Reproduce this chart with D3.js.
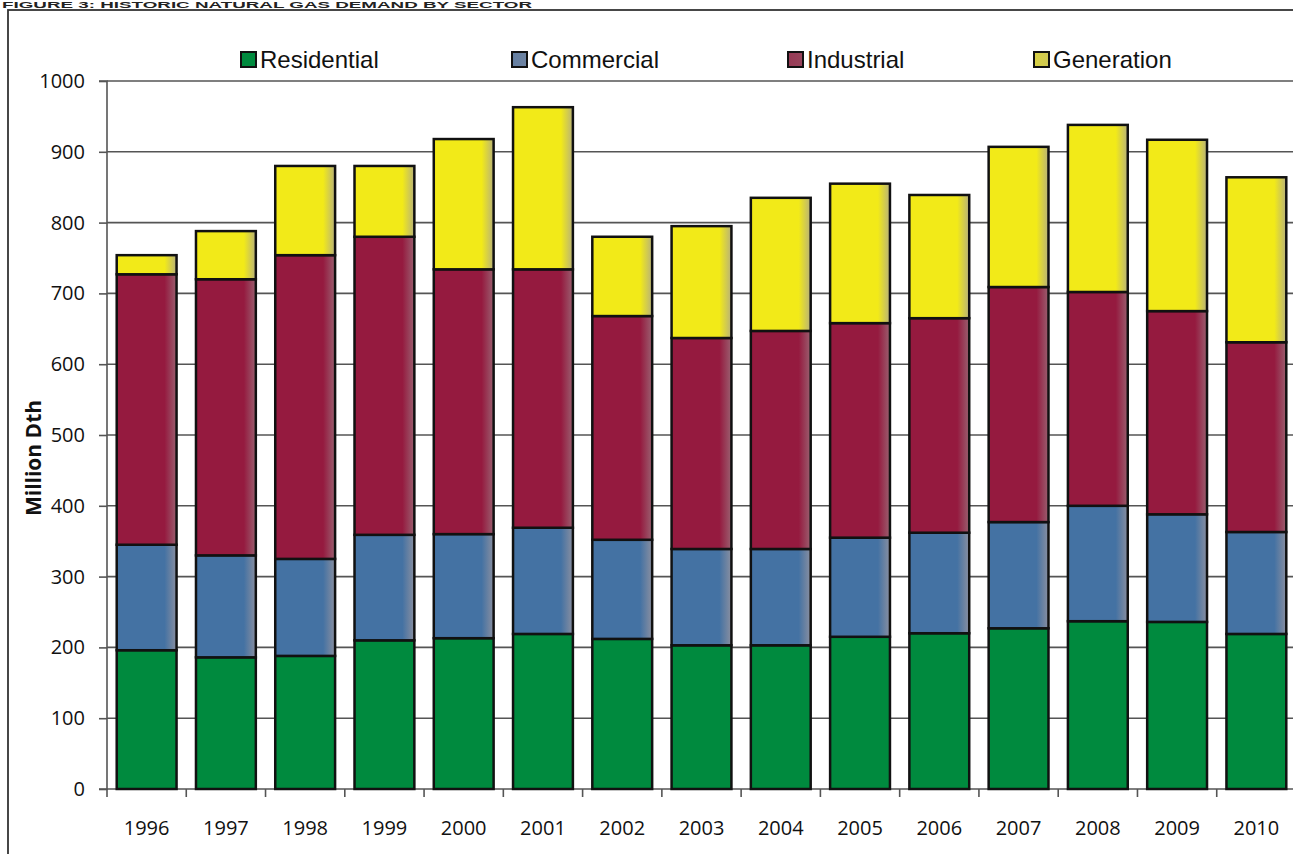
<!DOCTYPE html>
<html><head><meta charset="utf-8">
<script src="https://cdn.jsdelivr.net/npm/d3@7"></script>
<style>html,body{margin:0;padding:0;background:#fff;overflow:hidden}</style>
</head><body>
<svg id="c" width="1293" height="854"></svg>
<script>
const years = ["1996","1997","1998","1999","2000","2001","2002","2003","2004","2005","2006","2007","2008","2009","2010"];
const residential = [196,186,188,210,213,219,212,203,203,215,220,227,237,236,219];
const commercial  = [149,144,137,149,147,150,140,136,136,140,142,150,163,152,144];
const industrial  = [382,390,429,421,374,365,316,298,308,303,303,332,302,287,268];
const generation  = [27,68,126,100,184,229,112,158,188,197,174,198,236,242,233];
const seriesNames = ["Residential","Commercial","Industrial","Generation"];
const yTicks = [0,100,200,300,400,500,600,700,800,900,1000];
const title = "Figure 3: Historic Natural Gas Demand by Sector";

const colors = ["#008A3E","#4472A3","#951A3F","#F2EA18"];
const edgeColors = [null,"#8A8FA0","#9A6070","#B8B27A"];

const svg = d3.select("#c");
const W = 1293, H = 854;
const m = {left:107, right:-3, top:81, bottom:65};
const x = d3.scaleBand().domain(years).range([m.left, W - m.right]).paddingInner(0.245).paddingOuter(0.1225);
const y = d3.scaleLinear().domain([0,1000]).range([H - m.bottom, m.top]);

const defs = svg.append("defs");
colors.forEach((c,i)=>{
  const g = defs.append("linearGradient").attr("id","g"+i).attr("x1","0").attr("x2","1").attr("y1","0").attr("y2","0");
  g.append("stop").attr("offset","0").attr("stop-color",c);
  g.append("stop").attr("offset","0.8").attr("stop-color",c);
  g.append("stop").attr("offset","1").attr("stop-color",edgeColors[i] || c);
});
colors.forEach((c,i)=>{
  const g = defs.append("linearGradient").attr("id","s"+i).attr("x1","0").attr("x2","1").attr("y1","0").attr("y2","0");
  g.append("stop").attr("offset","0").attr("stop-color",i===0?c:d3.interpolateRgb(c, edgeColors[i])(0.45));
  g.append("stop").attr("offset","1").attr("stop-color",i===0?c:d3.interpolateRgb(c, edgeColors[i])(0.6));
});

// title
svg.append("text").attr("x",2).attr("y",8).attr("font-family","Liberation Sans, Arial, sans-serif")
  .attr("font-weight","bold").attr("font-size",9).attr("fill","#222")
  .attr("textLength",530).attr("lengthAdjust","spacingAndGlyphs")
  .text(title.toUpperCase());

// frame
svg.append("rect").attr("x",8).attr("y",10).attr("width",W+10).attr("height",H+10)
  .attr("fill","none").attr("stroke","#333").attr("stroke-width",1.8);

// gridlines
svg.append("g").selectAll("line").data(yTicks.filter(d=>d>0)).join("line")
  .attr("x1",m.left).attr("x2",W).attr("y1",d=>y(d)).attr("y2",d=>y(d))
  .attr("stroke","#555").attr("stroke-width",1.6);

// y axis
const ya = svg.append("g").attr("transform",`translate(${m.left},0)`)
  .call(d3.axisLeft(y).tickValues(yTicks).tickSize(8).tickPadding(14).tickFormat(d3.format("d")));
ya.selectAll("path,line").attr("stroke","#555").attr("stroke-width",1.6);
ya.select(".domain").attr("d",`M-8,${y(0)}H0V${y(1000)}H-8`);
ya.selectAll("text").attr("font-family","Open Sans, sans-serif").attr("font-size",20).attr("fill","#111");

// x axis
const bounds = years.map((yr,i)=> x(yr) - x.step()*x.paddingInner()/2).concat([x(years[years.length-1]) + x.bandwidth() + x.step()*x.paddingInner()/2]);
svg.append("line").attr("x1",m.left).attr("x2",W).attr("y1",y(0)).attr("y2",y(0)).attr("stroke","#555").attr("stroke-width",1.6);
svg.append("g").selectAll("line").data(bounds).join("line")
  .attr("x1",d=>d).attr("x2",d=>d).attr("y1",y(0)).attr("y2",y(0)+8).attr("stroke","#555").attr("stroke-width",1.6);
svg.append("g").selectAll("text").data(years).join("text")
  .attr("x",d=>x(d)+x.bandwidth()/2).attr("y",y(0)+46).attr("text-anchor","middle")
  .attr("font-family","Open Sans, sans-serif").attr("font-size",20).attr("fill","#111").text(d=>d);

// stacked bars
const rows = years.map((yr,i)=>({year:yr, Residential:residential[i], Commercial:commercial[i], Industrial:industrial[i], Generation:generation[i]}));
const stack = d3.stack().keys(seriesNames)(rows);
stack.forEach((s,si)=>{
  svg.append("g").selectAll("rect").data(s).join("rect")
    .attr("x",d=>x(d.data.year)).attr("width",x.bandwidth())
    .attr("y",d=>y(d[1])).attr("height",d=>y(d[0])-y(d[1]))
    .attr("fill",`url(#g${si})`).attr("stroke","#111").attr("stroke-width",2.5);
});

// y label
svg.append("text").attr("transform",`translate(41,458) rotate(-90)`).attr("text-anchor","middle")
  .attr("font-family","Open Sans, sans-serif").attr("font-weight","bold").attr("font-size",21).attr("fill","#111")
  .text("Million Dth");

// legend
const legX = [241, 512, 788, 1034];
seriesNames.forEach((n,i)=>{
  const g = svg.append("g").attr("transform",`translate(${legX[i]},52)`);
  g.append("rect").attr("x",0).attr("y",0).attr("width",15).attr("height",15)
    .attr("fill",`url(#s${i})`).attr("stroke","#111").attr("stroke-width",2);
  g.append("text").attr("x",19).attr("y",16).attr("font-family","Liberation Sans, Arial, sans-serif")
    .attr("font-size",24).attr("fill","#111").text(n);
});
</script>
</body></html>
